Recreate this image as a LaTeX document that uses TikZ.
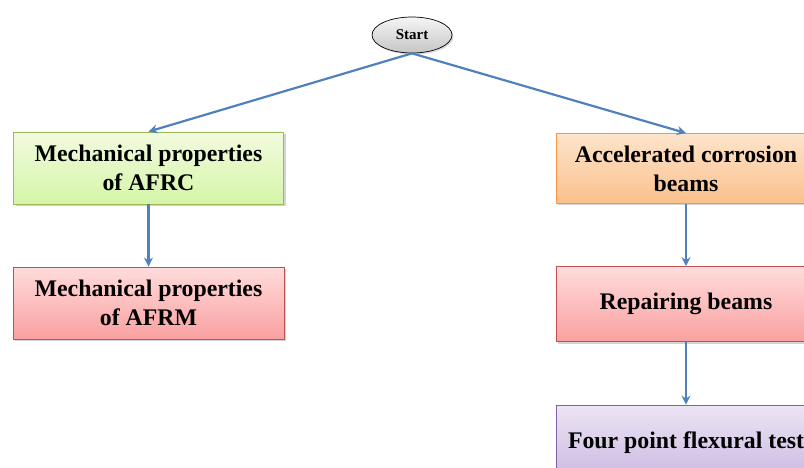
\documentclass[tikz,border=0pt]{standalone}
\usepackage{fontspec}
\setmainfont{Liberation Serif}
\usepackage{tikz}
\usetikzlibrary{shadows}
\usetikzlibrary{shapes.geometric}
\usetikzlibrary{arrows.meta}

\definecolor{bleuFleche}{HTML}{4F81BD}
\definecolor{vertBord}{HTML}{9BBB59}
\definecolor{orangeBord}{HTML}{F79646}
\definecolor{rougeBord}{HTML}{C0504D}
\definecolor{violetBord}{HTML}{8064A2}

\tikzset{
    boite/.style={rectangle, draw, line width=0.8pt, minimum height=72pt, align=center,
        font=\fontsize{23.8}{29}\selectfont\bfseries,
        drop shadow={opacity=0.35, shadow xshift=2pt, shadow yshift=-2pt}},
    fleche/.style={draw=bleuFleche, line width=2.2pt, -{Stealth[length=9pt,width=9pt]}}
}

\begin{document}
\begin{tikzpicture}[x=1pt,y=-1pt]
                \clip (0,0) rectangle (804,468);

                % départ
                \node[ellipse, draw, line width=0.7pt, minimum width=80pt, minimum height=36pt,
                      top color=gray!8, bottom color=gray!45,
                      drop shadow={opacity=0.3, shadow xshift=1.5pt, shadow yshift=-1.5pt},
                      font=\fontsize{15}{17}\selectfont\bfseries] (start) at (412,35) {Start};

                % colonne gauche
                \node[boite, draw=vertBord, top color={rgb,255:red,242;green,251;blue,222},
                      bottom color={rgb,255:red,212;green,245;blue,168},
                      minimum width=270pt] (afrc) at (148.5,168) {Mechanical properties\\of AFRC};
                \node[boite, draw=rougeBord, top color={rgb,255:red,255;green,220;blue,220},
                      bottom color={rgb,255:red,250;green,160;blue,160},
                      minimum width=271pt] (afrm) at (148.5,303) {Mechanical properties\\of AFRM};

                % colonne droite
                \node[boite, draw=orangeBord, top color={rgb,255:red,253;green,228;blue,203},
                      bottom color={rgb,255:red,251;green,192;blue,140},
                      minimum width=260pt, minimum height=70pt] (corrosion) at (686,168.5) {Accelerated corrosion\\beams};
                \node[boite, draw=rougeBord, top color={rgb,255:red,255;green,220;blue,220},
                      bottom color={rgb,255:red,250;green,160;blue,160},
                      minimum width=260pt, minimum height=75pt] (reparation) at (686,304) {Repairing beams};
                \node[boite, draw=violetBord, top color={rgb,255:red,236;green,229;blue,245},
                      bottom color={rgb,255:red,203;green,184;blue,224},
                      minimum width=260pt, minimum height=75pt] (essai) at (686,442.5) {Four point flexural test};

                % flèches
                \draw[fleche] (start.south) -- (afrc.north);
                \draw[fleche] (start.south) -- (corrosion.north);
                \draw[fleche] (afrc.south) -- (afrm.north);
                \draw[fleche] (corrosion.south) -- (reparation.north);
                \draw[fleche] (reparation.south) -- (essai.north);
            \end{tikzpicture}
\end{document}
